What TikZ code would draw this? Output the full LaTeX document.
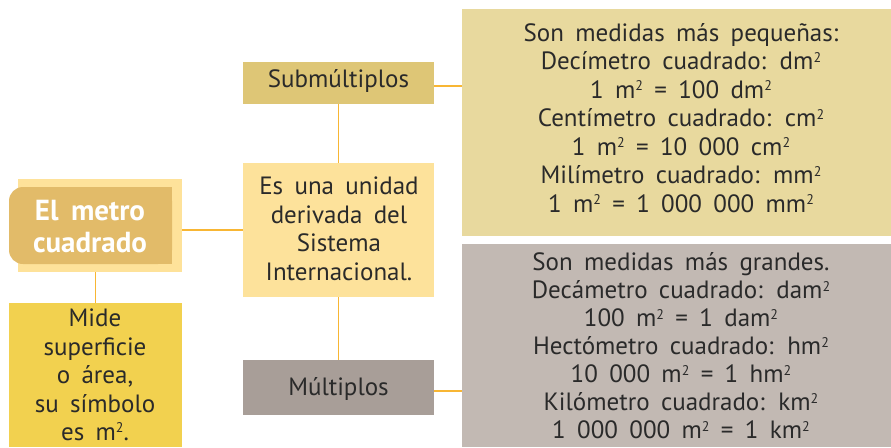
\documentclass[tikz,border=0pt]{standalone}
\usepackage{fontspec}
\setmainfont[WordSpace=1.7]{PT Sans}
\newcommand{\msq}{\raisebox{0.62ex}{\fontsize{14}{14}\selectfont 2}}
\definecolor{titlelight}{HTML}{FEE29A}
\definecolor{titledark}{HTML}{E2BB69}
\definecolor{midefill}{HTML}{F2D14F}
\definecolor{subfill}{HTML}{DEC676}
\definecolor{esfill}{HTML}{FDE29B}
\definecolor{mulfill}{HTML}{A89E98}
\definecolor{peqfill}{HTML}{E8D99E}
\definecolor{grafill}{HTML}{C2B9B3}
\definecolor{linecol}{HTML}{F8B634}
\definecolor{txt}{HTML}{2A2A2A}
\begin{document}
\begin{tikzpicture}[x=1pt,y=-1pt,
  box/.style={rectangle,draw=none,inner sep=0pt,outer sep=0pt},
  body/.style={align=center,inner sep=0pt,text=txt,font=\fontsize{25}{28.5}\selectfont},
  conn/.style={draw=linecol,line width=1.8pt}]
\fill[white] (0,0) rectangle (891,447);
\useasboundingbox (0,0) rectangle (891,447);
% boxes
\node[box,fill=titlelight,minimum width=164pt,minimum height=93pt] (title) at (100,225.5) {};
\fill[titledark,rounded corners=14pt] (9,187) rectangle (172,264);
\fill[titledark] (140,187) rectangle (172,264);
\node[body,text=white,font=\bfseries\fontsize{29}{32}\selectfont] (titletxt) at (90,227) {El metro\\cuadrado};
\node[box,fill=midefill,minimum width=173pt,minimum height=144pt] (mide) at (95.5,375) {};
\node[box,fill=subfill,minimum width=191pt,minimum height=42pt] (sub) at (338.5,83) {};
\node[box,fill=esfill,minimum width=191pt,minimum height=134pt] (es) at (338.5,230) {};
\node[box,fill=mulfill,minimum width=191pt,minimum height=55pt] (mul) at (338.5,387.5) {};
\node[box,fill=peqfill,minimum width=429pt,minimum height=227pt] (peq) at (676.5,122.5) {};
\node[box,fill=grafill,minimum width=429pt,minimum height=203pt] (gra) at (676.5,345.5) {};
% texts
\node[body] (midetxt) at (95,375) {Mide\\superficie\\o área,\\su símbolo\\es m\msq.};
\node[body] (subtxt) at (338.5,81) {Submúltiplos};
\node[body] (estxt) at (339,229) {Es una unidad\\derivada del\\Sistema\\Internacional.};
\node[body] (multxt) at (338.5,389) {Múltiplos};
\node[body] (peqtxt) at (681,118) {Son medidas más pequeñas:\\Decímetro cuadrado: dm\msq\\1 m\msq{} = 100 dm\msq\\Centímetro cuadrado: cm\msq\\1 m\msq{} = 10 000 cm\msq\\Milímetro cuadrado: mm\msq\\1 m\msq{} = 1 000 000 mm\msq};
\node[body,font=\fontsize{25}{28}\selectfont] (gratxt) at (681,346) {Son medidas más grandes.\\Decámetro cuadrado: dam\msq\\100 m\msq{} = 1 dam\msq\\Hectómetro cuadrado: hm\msq\\10 000 m\msq{} = 1 hm\msq\\Kilómetro cuadrado: km\msq\\1 000 000 m\msq{} = 1 km\msq};
% connectors
\draw[conn] (title.east |- es.west) -- (es.west);
\draw[conn] (mide.north) -- (mide.north |- title.south);
\draw[conn] (sub.south) -- (es.north);
\draw[conn] (es.south) -- (mul.north);
\draw[conn] ([yshift=-3pt]sub.east) -- ([yshift=-3pt]sub.east -| peq.west);
\draw[conn] ([yshift=-3.5pt]mul.east) -- ([yshift=-3.5pt]mul.east -| gra.west);
\end{tikzpicture}
\end{document}
